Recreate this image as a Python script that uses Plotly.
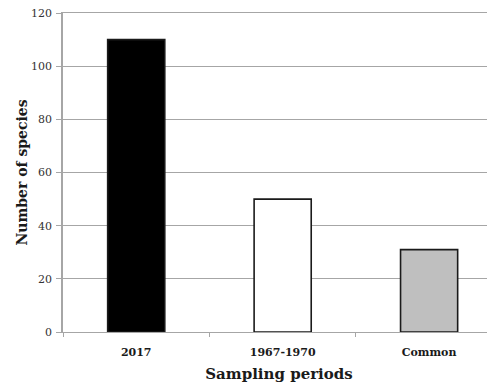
import plotly.graph_objects as go

categories = ["2017", "1967-1970", "Common"]
values = [110, 50, 31]
colors = ["#000000", "#ffffff", "#bfbfbf"]

fig = go.Figure()
fig.add_trace(go.Bar(
    x=categories, y=values,
    marker=dict(color=colors, line=dict(color="#1a1a1a", width=1.6)),
    width=0.39,
))

font_family = "DejaVu Serif, serif"
# page body has an 8px margin, so the figure is sized to end at the window edge
fig.update_layout(
    width=487, height=377,
    margin=dict(l=55, r=0, t=5, b=53),
    paper_bgcolor="white", plot_bgcolor="white",
    showlegend=False,
    font=dict(family=font_family, color="#222222"),
    xaxis=dict(
        range=[-0.5, 2.45], automargin=False,
        showline=True, mirror=True, linecolor="#a6a6a6", linewidth=1.3,
        ticks="outside", tickson="boundaries", ticklen=4, tickcolor="#a6a6a6",
        ticklabelstandoff=10,
        tickfont=dict(family=font_family, size=11, color="#1a1a1a", weight="bold"),
        title=dict(text="<b>Sampling periods</b>", font=dict(family=font_family, size=15, color="#1a1a1a"), standoff=10),
        showgrid=False,
    ),
    yaxis=dict(
        range=[0, 120], dtick=20, automargin=False,
        showline=True, linecolor="#a6a6a6", linewidth=1.5,
        showgrid=True, gridcolor="#a6a6a6", gridwidth=1.2,
        ticks="outside", ticklen=5, tickcolor="#a6a6a6",
        ticklabelstandoff=2, ticklabeloverflow="allow",
        tickfont=dict(family=font_family, size=11, color="#333333"),
        title=dict(text="<b>Number of species</b>", font=dict(family=font_family, size=14, color="#1a1a1a"), standoff=0),
        zeroline=False,
    ),
)

fig.write_html("out.html")
